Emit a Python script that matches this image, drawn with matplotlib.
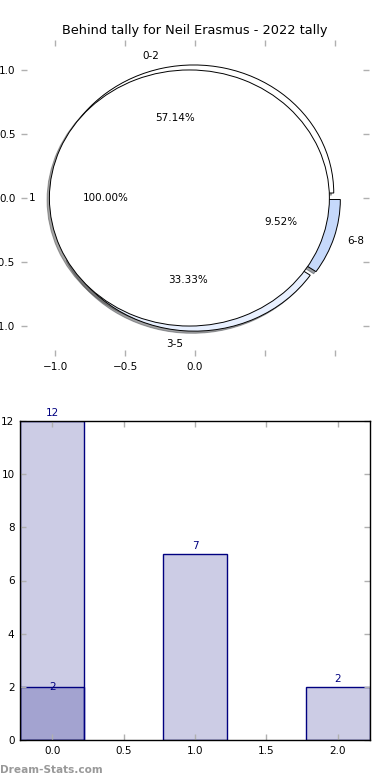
import matplotlib
matplotlib.use("Agg")
import matplotlib.pyplot as plt
from matplotlib.ticker import FixedLocator, FixedFormatter

# ---- data ----
title = "Behind tally for Neil Erasmus - 2022 tally"
inner_labels = ["1"]
inner_values = [21]
outer_labels = ["0-2", "3-5", "6-8"]
outer_values = [12, 7, 2]
outer_colors = ["#ffffff", "#e8f0ff", "#c6d9fb"]
inner_colors = ["#ffffff"]

bar_x = [0, 1, 2]
bar_values = [12, 7, 2]
overlay_x = [0]
overlay_values = [2]

pie_xticks = [-1.0, -0.5, 0.0, 0.5, 1.0]
pie_xticklabels = ["\u22121.0", "\u22120.5", "0.0", "", ""]
pie_yticks = [-1.0, -0.5, 0.0, 0.5, 1.0]
pie_yticklabels = ["\u22121.0", "\u22120.5", "0.0", "0.5", "1.0"]

bar_xticks = [0.0, 0.5, 1.0, 1.5, 2.0]
bar_yticks = [0, 2, 4, 6, 8, 10, 12]

FS = 7.5
plt.rcParams['font.family'] = ['DejaVu Sans']

fig = plt.figure(figsize=(3.9, 7.8), dpi=100)

# ---- pie ----
shadow_opts = {'ox': -0.012, 'oy': -0.012}
ax1 = fig.add_axes([21/390, 1-356/780, 348/390, 316/780])
ax1.pie(outer_values, labels=outer_labels, colors=outer_colors,
        explode=[0.04]*len(outer_values), autopct='%1.2f%%', shadow=shadow_opts,
        startangle=0, radius=1.0, frame=True,
        wedgeprops=dict(edgecolor='black', linewidth=0.7),
        textprops=dict(fontsize=FS))
ax1.pie(inner_values, labels=inner_labels, colors=inner_colors,
        explode=[0.04], autopct='%1.2f%%', shadow=shadow_opts,
        startangle=0, radius=1.0, frame=True,
        wedgeprops=dict(edgecolor='black', linewidth=0.7),
        textprops=dict(fontsize=FS))
ax1.set_aspect('auto')
ax1.set_xlim(-1.243, 1.243)
ax1.set_ylim(-1.234, 1.234)
for s in ax1.spines.values():
    s.set_visible(False)
ax1.xaxis.set_major_locator(FixedLocator(pie_xticks))
ax1.xaxis.set_major_formatter(FixedFormatter(pie_xticklabels))
ax1.yaxis.set_major_locator(FixedLocator(pie_yticks))
ax1.yaxis.set_major_formatter(FixedFormatter(pie_yticklabels))
ax1.tick_params(axis='both', direction='in', length=4, width=1, color='#b0b0b0',
                labelsize=FS, top=True, right=True, pad=4)
ax1.set_title(title, fontsize=9.3, pad=4)

# ---- bars ----
ax2 = fig.add_axes([20/390, 1-740/780, 350/390, 319/780])
bar_face = (0, 0, 0.5, 0.2)
ax2.bar(bar_x, bar_values, width=0.45, facecolor=bar_face, edgecolor='navy', linewidth=1)
ax2.bar(overlay_x, overlay_values, width=0.45, facecolor=bar_face, edgecolor='navy', linewidth=1)
for x, v in zip(bar_x, bar_values):
    ax2.text(x, v + 0.1, str(v), ha='center', va='bottom', color='navy', fontsize=FS)
for x, v in zip(overlay_x, overlay_values):
    ax2.text(x, v, str(v), ha='center', va='center', color='navy', fontsize=FS)
ax2.set_xlim(-0.225, 2.225)
ax2.set_ylim(0, 12)
ax2.set_xticks(bar_xticks)
ax2.set_xticklabels(["%.1f" % t for t in bar_xticks])
ax2.set_yticks(bar_yticks)
ax2.tick_params(axis='both', direction='in', length=4, width=1, color='#b0b0b0',
                labelsize=FS, top=True, right=True, pad=4)
for s in ax2.spines.values():
    s.set_linewidth(1)

fig.text(0.0, 1-770/780, "Dream-Stats.com", fontsize=7.6, fontweight='bold',
         color='#999999', ha='left', va='center')

fig.savefig("out.png", dpi=100)
